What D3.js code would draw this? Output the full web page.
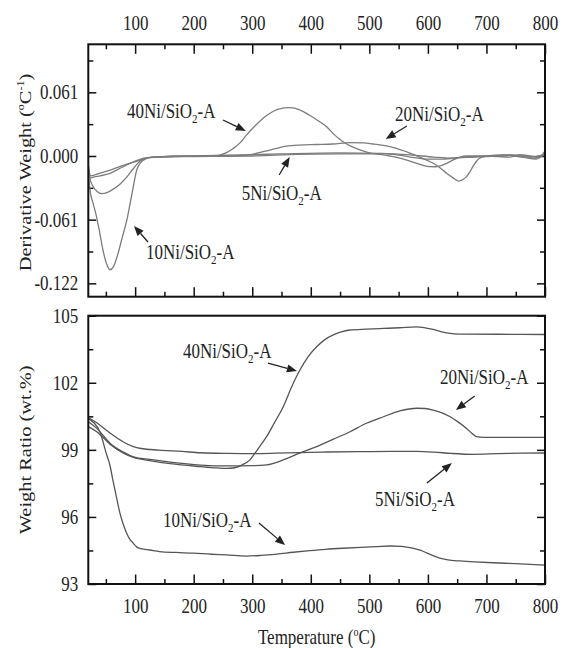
<!DOCTYPE html>
<html>
<head>
<meta charset="utf-8">
<script src="https://cdn.jsdelivr.net/npm/d3@7"></script>
<style>
  html, body { margin: 0; padding: 0; background: #fff; }
  svg { display: block; }
  text { font-family: "Liberation Serif", "Times New Roman", serif; fill: #222; }
</style>
</head>
<body>
<svg id="chart" width="562" height="648"></svg>
<script>
// ---- Data: derivative weight (DTG), [temperature °C, value] ----
const dtg5Ni = [[20,-0.010],[24,-0.019],[40,-0.0165],[60,-0.013],[80,-0.009],[103,-0.005],[120,-0.002],[135,-0.001],[200,0],[280,0.001],[350,0.002],[450,0.003],[520,0.0025],[570,0.001],[610,-0.001],[640,-0.002],[680,-0.001],[720,0],[760,0.001],[790,-0.001],[800,0.005]];
const dtg10Ni = [[20,-0.015],[23,-0.033],[28,-0.045],[34,-0.058],[40,-0.075],[45,-0.09],[51,-0.103],[57,-0.109],[63,-0.106],[70,-0.095],[78,-0.078],[86,-0.061],[94,-0.038],[103,-0.013],[110,-0.006],[117,-0.003],[130,-0.001],[200,-0.0005],[300,0],[350,0.001],[450,0.002],[530,0.002],[570,-0.001],[600,-0.003],[625,-0.003],[660,-0.001],[700,0],[740,0.001],[770,-0.001],[790,0],[800,0.002]];
const dtg20Ni = [[20,-0.012],[23,-0.021],[30,-0.020],[40,-0.019],[57,-0.0166],[70,-0.013],[85.5,-0.0086],[100,-0.005],[115,-0.002],[130,-0.001],[200,0],[260,0],[280,0.0005],[296,0.001],[310,0.003],[325,0.005],[340,0.007],[353,0.009],[367,0.010],[381,0.0105],[410,0.011],[438,0.0115],[467,0.0128],[490,0.0125],[506,0.0115],[520,0.0105],[535,0.009],[550,0.0065],[564,0.004],[575,0.0015],[586,-0.001],[598,-0.004],[609,-0.007],[620,-0.011],[632,-0.0166],[643,-0.021],[652,-0.024],[660,-0.0225],[666,-0.0198],[672,-0.015],[677,-0.010],[683,-0.005],[689,-0.002],[700,0],[730,0.001],[760,-0.001],[785,-0.003],[800,0.003]];
const dtg40Ni = [[20,-0.008],[23,-0.022],[28,-0.029],[35,-0.034],[43,-0.036],[52,-0.035],[62,-0.032],[74,-0.027],[86,-0.020],[97,-0.012],[108,-0.005],[118,-0.002],[130,-0.001],[200,0],[235,0],[255,0.003],[267,0.007],[280,0.013],[290,0.02],[305,0.029],[325,0.039],[345,0.045],[364,0.0463],[382,0.044],[398,0.039],[412,0.034],[427,0.028],[441,0.020],[455,0.0137],[470,0.009],[484,0.0058],[500,0.003],[518,0.0016],[535,0],[552,-0.002],[567,-0.0045],[581,-0.007],[592,-0.009],[603,-0.0102],[612,-0.0103],[620,-0.0096],[632,-0.007],[643,-0.0038],[655,-0.001],[665,0],[700,0],[740,-0.001],[760,0.001],[780,-0.002],[800,0.001]];

// ---- Data: weight ratio (TG, wt.%), [temperature °C, value] ----
const tg5Ni = [[20,100.45],[35,100.2],[57,99.75],[80,99.35],[97,99.14],[110,99.06],[140,98.99],[180,98.93],[211,98.87],[260,98.84],[300,98.83],[340,98.85],[380,98.88],[420,98.9],[480,98.92],[540,98.93],[581,98.93],[610,98.9],[640,98.84],[677,98.8],[720,98.83],[760,98.85],[800,98.86]];
const tg10Ni = [[20,100.40],[30,100.2],[40,99.8],[50,98.9],[57,98.3],[62,97.65],[68,96.9],[74,96.17],[80,95.65],[85.5,95.27],[91,95.0],[96.6,94.83],[103,94.65],[110,94.58],[125,94.52],[142,94.45],[170,94.41],[199,94.38],[230,94.33],[256,94.30],[290,94.25],[315,94.28],[342,94.34],[370,94.42],[398,94.49],[425,94.55],[455,94.6],[485,94.64],[512,94.67],[535,94.70],[555,94.68],[574,94.6],[588,94.5],[598,94.39],[612,94.24],[626,94.12],[640,94.06],[655,94.03],[680,93.99],[711,93.95],[750,93.91],[800,93.84]];
const tg20Ni = [[20,100.26],[35,99.95],[57,99.3],[80,98.9],[97,98.69],[125,98.57],[160,98.45],[211,98.32],[260,98.28],[300,98.29],[325,98.33],[353,98.55],[381,98.85],[410,99.14],[438,99.47],[467,99.81],[495,100.19],[524,100.48],[552,100.74],[581,100.86],[595,100.85],[609,100.78],[624,100.65],[638,100.48],[652,100.24],[666,99.96],[675,99.74],[683,99.59],[695,99.56],[706,99.56],[750,99.56],[800,99.56]];
const tg40Ni = [[20,100.04],[35,99.8],[57,99.25],[80,98.85],[97,98.66],[125,98.52],[160,98.38],[211,98.25],[240,98.19],[256,98.17],[270,98.2],[283,98.33],[296,98.55],[305,98.86],[314,99.2],[324.5,99.59],[338,100.22],[353,100.93],[367,101.8],[381.4,102.57],[395,103.15],[410,103.61],[424,103.93],[438.4,104.14],[452,104.28],[466.8,104.36],[495,104.40],[524,104.43],[552,104.46],[580,104.5],[595,104.46],[609,104.39],[624,104.28],[638,104.21],[652,104.18],[666,104.18],[720,104.17],[800,104.16]];

// ---- Tick values ----
const tempTicks = [100, 200, 300, 400, 500, 600, 700, 800];
const tempMinor = [50, 150, 250, 350, 450, 550, 650, 750];
const dtgTicks = [-0.122, -0.061, 0.000, 0.061];
const dtgMinor = [-0.0915, -0.0305, 0.0305, 0.0915];
const tgTicks = [93, 96, 99, 102, 105];
const tgMinor = [94.5, 97.5, 100.5, 103.5];

// ---- Sample labels and arrows (data units) ----
const dtgNotes = [
  { name: "40Ni", at: [86, 0.0364],  from: [250, 0.0345], to: [289, 0.024] },
  { name: "20Ni", at: [544, 0.0335], from: [564, 0.0287], to: [528, 0.0163] },
  { name: "5Ni",  at: [282, -0.0422], from: [346, -0.0182], to: [364, -0.001] },
  { name: "10Ni", at: [118.5, -0.0987], from: [122, -0.0824], to: [98, -0.067] }
];
const tgNotes = [
  { name: "40Ni", at: [181.6, 103.1], from: [326.8, 102.88], to: [376.3, 102.53] },
  { name: "20Ni", at: [620.5, 101.94], from: [680, 101.41], to: [647.8, 100.78] },
  { name: "5Ni",  at: [509.5, 96.49], from: [598.3, 97.52], to: [641, 98.41] },
  { name: "10Ni", at: [147.5, 95.55], from: [311.5, 95.73], to: [356, 94.74] }
];

// ---- Layout ----
const svg = d3.select("#chart");
const X0 = 88.3, X1 = 545;
const top1 = 44.3, bot1 = 296.7, top2 = 315.7, bot2 = 584;
const SY = 1.2;           // vertical stretch applied to all lettering
const FS = 17;

const x = d3.scaleLinear().domain([20, 800]).range([X0, X1]);
const yD = d3.scaleLinear().domain([-0.1348, 0.107]).range([bot1, top1]);
const yT = d3.scaleLinear().domain([93, 105]).range([bot2, top2]);

function styleAxis(g, labels) {
  g.select(".domain").remove();
  g.selectAll(".tick line").attr("stroke", "#111").attr("stroke-width", 1.5);
  g.selectAll(".tick text")
    .attr("font-size", FS)
    .attr("fill", "#222")
    .attr("font-family", "Liberation Serif, Times New Roman, serif")
    .attr("transform", `scale(1,${SY})`);
  if (!labels) g.selectAll(".tick text").remove();
}

function addAxis(axis, tx, ty, labels) {
  const g = svg.append("g").attr("transform", `translate(${tx},${ty})`).call(axis);
  styleAxis(g, labels);
  return g;
}

const fmtD = d => d.toFixed(3);

// Top panel axes (ticks inward on all four sides)
addAxis(d3.axisTop(x).tickValues(tempTicks).tickSizeInner(-9.5).tickSizeOuter(0).tickPadding(12).tickFormat(d3.format("d")), 0, top1, true);
addAxis(d3.axisTop(x).tickValues(tempMinor).tickSizeInner(-5).tickSizeOuter(0), 0, top1, false);
addAxis(d3.axisBottom(x).tickValues(tempTicks).tickSizeInner(-9.5).tickSizeOuter(0), 0, bot1, false);
addAxis(d3.axisBottom(x).tickValues(tempMinor).tickSizeInner(-5).tickSizeOuter(0), 0, bot1, false);
addAxis(d3.axisLeft(yD).tickValues(dtgTicks).tickSizeInner(-8).tickSizeOuter(0).tickPadding(10).tickFormat(fmtD), X0, 0, true);
addAxis(d3.axisLeft(yD).tickValues(dtgMinor).tickSizeInner(-5).tickSizeOuter(0), X0, 0, false);
addAxis(d3.axisRight(yD).tickValues(dtgTicks).tickSizeInner(-8).tickSizeOuter(0), X1, 0, false);
addAxis(d3.axisRight(yD).tickValues(dtgMinor).tickSizeInner(-5).tickSizeOuter(0), X1, 0, false);

// Bottom panel axes
addAxis(d3.axisBottom(x).tickValues(tempTicks).tickSizeInner(-9.5).tickSizeOuter(0).tickPadding(12).tickFormat(d3.format("d")), 0, bot2, true);
addAxis(d3.axisBottom(x).tickValues(tempMinor).tickSizeInner(-5).tickSizeOuter(0), 0, bot2, false);
addAxis(d3.axisLeft(yT).tickValues(tgTicks).tickSizeInner(-8).tickSizeOuter(0).tickPadding(10).tickFormat(d3.format("d")), X0, 0, true);
addAxis(d3.axisLeft(yT).tickValues(tgMinor).tickSizeInner(-5).tickSizeOuter(0), X0, 0, false);
addAxis(d3.axisRight(yT).tickValues(tgTicks).tickSizeInner(-8).tickSizeOuter(0), X1, 0, false);
addAxis(d3.axisRight(yT).tickValues(tgMinor).tickSizeInner(-5).tickSizeOuter(0), X1, 0, false);

// Clip paths for each panel
const defs = svg.append("defs");
defs.append("clipPath").attr("id", "clipTop").append("rect")
  .attr("x", X0).attr("y", top1).attr("width", X1 - X0).attr("height", bot1 - top1);
defs.append("clipPath").attr("id", "clipBot").append("rect")
  .attr("x", X0).attr("y", top2).attr("width", X1 - X0).attr("height", bot2 - top2);

// Curves
const lineD = d3.line().x(d => x(d[0])).y(d => yD(d[1])).curve(d3.curveMonotoneX);
const lineT = d3.line().x(d => x(d[0])).y(d => yT(d[1])).curve(d3.curveMonotoneX);

const gTop = svg.append("g").attr("clip-path", "url(#clipTop)");
[dtg5Ni, dtg20Ni, dtg40Ni, dtg10Ni].forEach(s => {
  gTop.append("path").attr("d", lineD(s)).attr("fill", "none")
    .attr("stroke", "#7c7c7c").attr("stroke-width", 1.3);
});
const gBot = svg.append("g").attr("clip-path", "url(#clipBot)");
[tg5Ni, tg20Ni, tg40Ni, tg10Ni].forEach(s => {
  gBot.append("path").attr("d", lineT(s)).attr("fill", "none")
    .attr("stroke", "#555").attr("stroke-width", 1.3);
});

// Frames
[[top1, bot1], [top2, bot2]].forEach(([t, b]) => {
  svg.append("rect").attr("x", X0).attr("y", t).attr("width", X1 - X0).attr("height", b - t)
    .attr("fill", "none").attr("stroke", "#111").attr("stroke-width", 2);
});

// Text helper with vertical stretch
function stretchedText(px, py, rotate) {
  const tr = `translate(${px},${py}) scale(1,${SY})` + (rotate ? " rotate(-90)" : "");
  return svg.append("text").attr("transform", tr).attr("font-size", FS);
}

// Sample label: "xxNi/SiO2-A" with subscript 2
function sampleLabel(px, py, name) {
  const t = stretchedText(px, py, false);
  t.append("tspan").text(name + "/SiO");
  t.append("tspan").attr("font-size", 11).attr("dy", 4).text("2");
  t.append("tspan").attr("dy", -4).text("-A");
}

function arrow(p0, p1) {
  const dx = p1[0] - p0[0], dy = p1[1] - p0[1];
  const len = Math.hypot(dx, dy), ux = dx / len, uy = dy / len;
  const hl = 10, hw = 4;
  const bx = p1[0] - ux * hl, by = p1[1] - uy * hl;
  svg.append("line").attr("x1", p0[0]).attr("y1", p0[1]).attr("x2", bx).attr("y2", by)
    .attr("stroke", "#222").attr("stroke-width", 1.3);
  svg.append("path")
    .attr("d", `M${p1[0]},${p1[1]}L${bx - uy * hw},${by + ux * hw}L${bx + uy * hw},${by - ux * hw}Z`)
    .attr("fill", "#222");
}

dtgNotes.forEach(n => {
  sampleLabel(x(n.at[0]), yD(n.at[1]), n.name);
  arrow([x(n.from[0]), yD(n.from[1])], [x(n.to[0]), yD(n.to[1])]);
});
tgNotes.forEach(n => {
  sampleLabel(x(n.at[0]), yT(n.at[1]), n.name);
  arrow([x(n.from[0]), yT(n.from[1])], [x(n.to[0]), yT(n.to[1])]);
});

// Axis titles
{
  const t = stretchedText((X0 + X1) / 2, 644, false).attr("text-anchor", "middle");
  t.append("tspan").text("Temperature (");
  t.append("tspan").attr("font-size", 10).attr("dy", -7).text("o");
  t.append("tspan").attr("dy", 7).text("C)");
}
{
  const t = stretchedText(31, (top1 + bot1) / 2 + 2, true).attr("text-anchor", "middle");
  t.append("tspan").text("Derivative Weight (");
  t.append("tspan").attr("font-size", 10).attr("dy", -7).text("o");
  t.append("tspan").attr("dy", 7).text("C");
  t.append("tspan").attr("font-size", 10).attr("dy", -7).text("-1");
  t.append("tspan").attr("dy", 7).text(")");
}
{
  const t = stretchedText(31, (top2 + bot2) / 2, true).attr("text-anchor", "middle");
  t.text("Weight Ratio (wt.%)");
}
</script>
</body>
</html>
